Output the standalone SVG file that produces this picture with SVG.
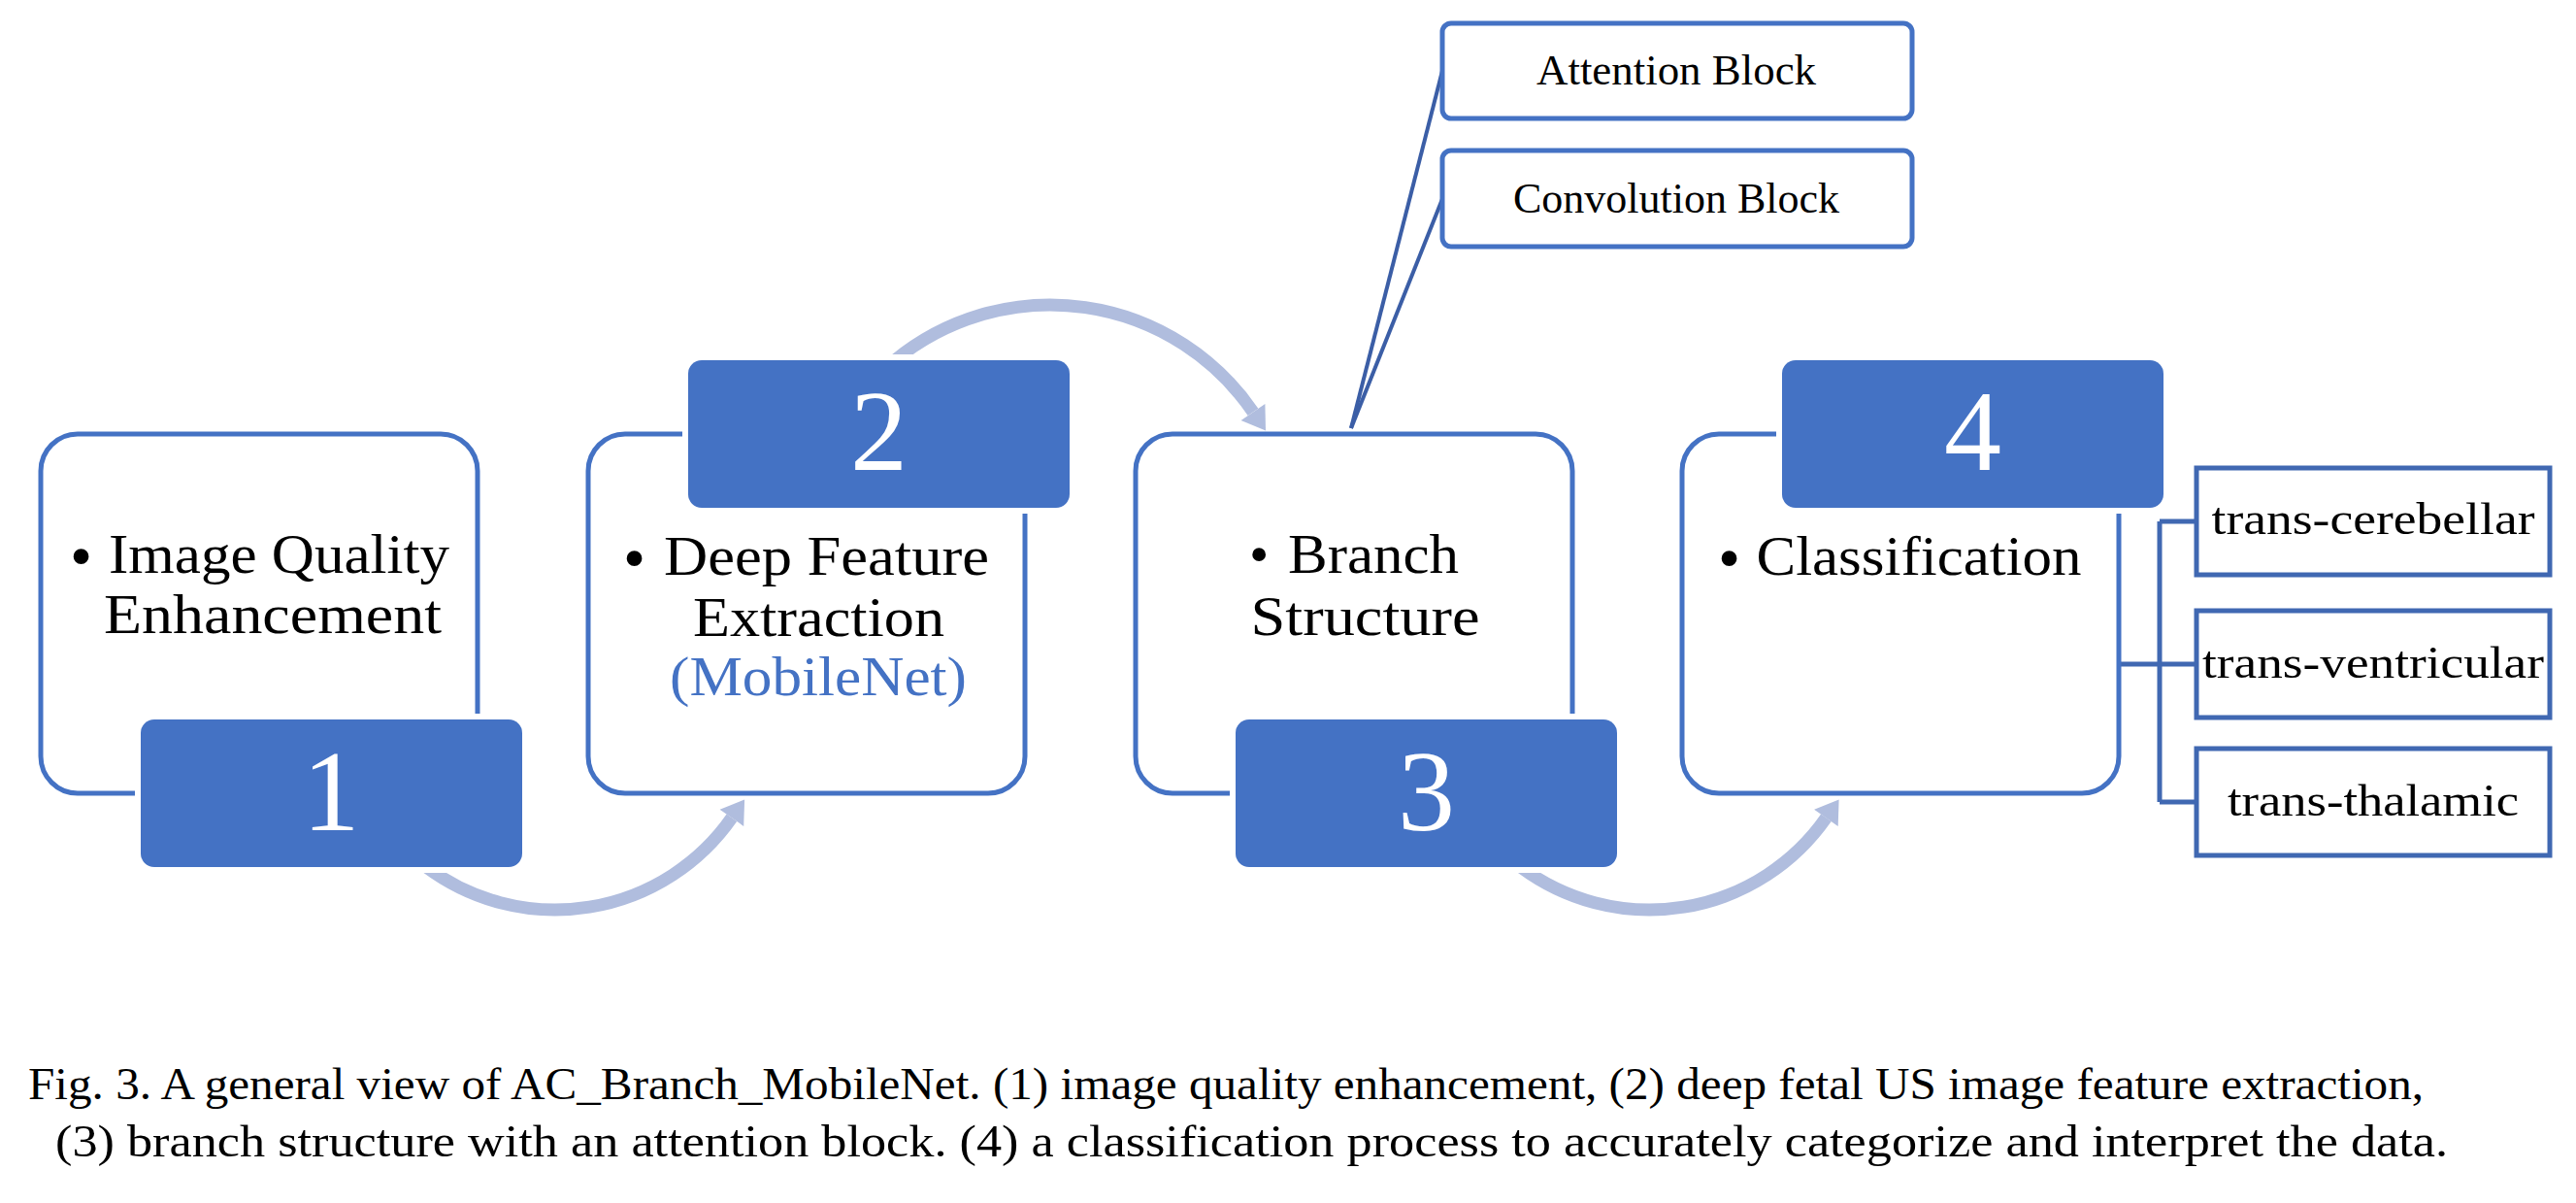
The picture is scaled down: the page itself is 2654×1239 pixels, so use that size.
<svg xmlns="http://www.w3.org/2000/svg" width="2654" height="1239" viewBox="0 0 2654 1239">
<style>
.box{fill:#fff;stroke:#4472C4;stroke-width:5}
.badge{fill:#4472C4;stroke:#fff;stroke-width:12;paint-order:stroke}
.sub{fill:#fff;stroke:#4472C4;stroke-width:5}
.cls{fill:#fff;stroke:#4068B2;stroke-width:5}
.arc{fill:none;stroke:#B0BDDE;stroke-width:13}
.head{fill:#B0BDDE}
.link{fill:none;stroke:#3B5EA6;stroke-width:4}
.tree{fill:none;stroke:#4068B2;stroke-width:5}
.lbl{font-family:"Liberation Serif",serif;font-size:58px;fill:#000}
.bul{font-size:66px}
.num{font-family:"Liberation Serif",serif;font-size:118px;fill:#fff;text-anchor:middle}
.small{font-family:"Liberation Serif",serif;font-size:44px;fill:#000;text-anchor:middle}
.cap{font-family:"Liberation Serif",serif;font-size:46px;fill:#000}
</style>
<rect width="2654" height="1239" fill="#fff"/>
<g id="connectors">
<path class="arc" d="M 439.3 893 A 222 222 0 0 0 753.9 842.3"/>
<polygon class="head" points="767.1,823.5 766.2,850.9 741.6,833.7"/>
<path class="arc" d="M 922 371 A 253 253 0 0 1 1291 424.4"/>
<polygon class="head" points="1304,443.4 1303.4,415.9 1278.6,432.9"/>
<path class="arc" d="M 1566.8 893 A 222 222 0 0 0 1881.4 842.3"/>
<polygon class="head" points="1894.6,823.5 1893.7,850.9 1869.1,833.7"/>
<line class="link" x1="1392" y1="441" x2="1486" y2="73"/>
<line class="link" x1="1392" y1="441" x2="1486" y2="205"/>
<path class="tree" d="M 2185 684 H 2225 M 2225 537 V 826 M 2225 537 H 2263 M 2225 684 H 2263 M 2225 826 H 2263"/>
</g>
<g id="node1">
<rect class="box" x="42" y="447" width="450" height="370" rx="38"/>
<text class="lbl" y="590"><tspan class="bul" x="72" dy="5">•</tspan><tspan x="112" dy="-5" textLength="351" lengthAdjust="spacingAndGlyphs">Image Quality</tspan></text>
<text class="lbl" x="107" y="652" textLength="348" lengthAdjust="spacingAndGlyphs">Enhancement</text>
<rect class="badge" x="145" y="741" width="393" height="152" rx="14"/>
<text class="num" x="341" y="855">1</text>
</g>
<g id="node2">
<rect class="box" x="606" y="447" width="450" height="370" rx="38"/>
<text class="lbl" y="592"><tspan class="bul" x="642" dy="5">•</tspan><tspan x="684" dy="-5" textLength="335" lengthAdjust="spacingAndGlyphs">Deep Feature</tspan></text>
<text class="lbl" x="714" y="655" textLength="259" lengthAdjust="spacingAndGlyphs">Extraction</text>
<text class="lbl" x="690" y="716" textLength="306" lengthAdjust="spacingAndGlyphs" style="fill:#4472C4">(MobileNet)</text>
<rect class="badge" x="709" y="371" width="393" height="152" rx="14"/>
<text class="num" x="905.5" y="484">2</text>
</g>
<g id="node3">
<rect class="box" x="1170" y="447" width="450" height="370" rx="38"/>
<text class="lbl" y="590"><tspan x="1287">•</tspan><tspan x="1327" textLength="176" lengthAdjust="spacingAndGlyphs">Branch</tspan></text>
<text class="lbl" x="1288.5" y="654" textLength="236" lengthAdjust="spacingAndGlyphs">Structure</text>
<rect class="badge" x="1273" y="741" width="393" height="152" rx="14"/>
<text class="num" x="1469.5" y="855">3</text>
</g>
<g id="node4">
<rect class="box" x="1733" y="447" width="450" height="370" rx="38"/>
<text class="lbl" y="592"><tspan class="bul" x="1770" dy="5">•</tspan><tspan x="1809.5" dy="-5" textLength="335" lengthAdjust="spacingAndGlyphs">Classification</tspan></text>
<rect class="badge" x="1836" y="371" width="393" height="152" rx="14"/>
<text class="num" x="2032.5" y="484">4</text>
</g>
<g id="attention">
<rect class="sub" x="1486" y="24" width="484" height="98" rx="9"/>
<text class="small" x="1727" y="87" textLength="288" lengthAdjust="spacingAndGlyphs">Attention Block</text>
</g>
<g id="convolution">
<rect class="sub" x="1486" y="155" width="484" height="99" rx="9"/>
<text class="small" x="1727" y="219" textLength="336" lengthAdjust="spacingAndGlyphs">Convolution Block</text>
</g>
<g id="cerebellar">
<rect class="cls" x="2263" y="482" width="364" height="110"/>
<text class="small" x="2445" y="550" style="font-size:46px" textLength="333" lengthAdjust="spacingAndGlyphs">trans-cerebellar</text>
</g>
<g id="ventricular">
<rect class="cls" x="2263" y="629" width="364" height="110"/>
<text class="small" x="2445" y="698" style="font-size:46px" textLength="352" lengthAdjust="spacingAndGlyphs">trans-ventricular</text>
</g>
<g id="thalamic">
<rect class="cls" x="2263" y="771" width="364" height="110"/>
<text class="small" x="2445" y="840" style="font-size:46px" textLength="300" lengthAdjust="spacingAndGlyphs">trans-thalamic</text>
</g>
<g id="caption">
<text class="cap" x="29" y="1132" textLength="2468" lengthAdjust="spacingAndGlyphs">Fig. 3. A general view of AC_Branch_MobileNet. (1) image quality enhancement, (2) deep fetal US image feature extraction,</text>
<text class="cap" x="57" y="1191" textLength="2465" lengthAdjust="spacingAndGlyphs">(3) branch structure with an attention block. (4) a classification process to accurately categorize and interpret the data.</text>
</g>
</svg>
